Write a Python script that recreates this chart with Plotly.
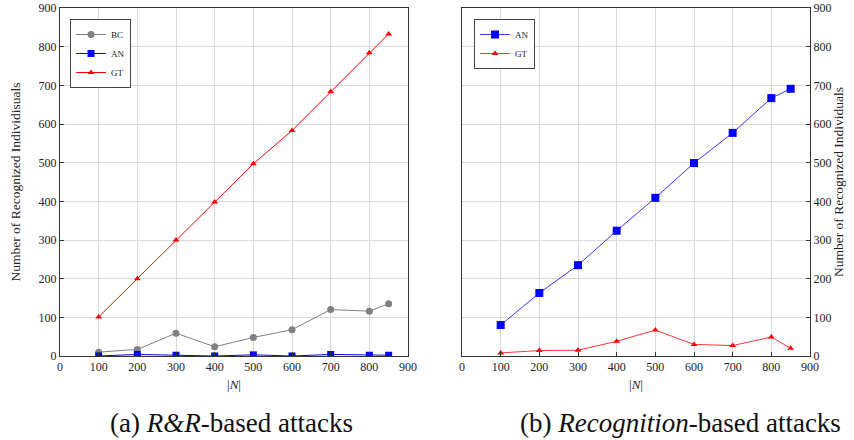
import plotly.graph_objects as go

N = [100, 200, 300, 400, 500, 600, 700, 800, 850]
rr_bc = [10, 17, 59, 24, 48, 68, 120, 116, 135]
rr_an = [0, 4, 2, 0, 3, 0, 4, 2, 2]
rr_gt = [101, 200, 300, 398, 497, 583, 684, 784, 833]
rec_an = [80, 163, 235, 324, 409, 499, 577, 667, 691]
rec_gt = [8, 14, 15, 38, 67, 30, 27, 49, 20]
ticks = [0, 100, 200, 300, 400, 500, 600, 700, 800, 900]

FONT = "Liberation Serif"
GRAY, BLUE, RED = "#808080", "#0000FF", "#FF0000"

fig = go.Figure()
fig.add_trace(go.Scatter(x=N, y=rr_bc, name="BC", mode="lines+markers", xaxis="x", yaxis="y",
                         line=dict(color=GRAY, width=1), marker=dict(symbol="circle", size=7, color=GRAY),
                         legend="legend"))
fig.add_trace(go.Scatter(x=N, y=rr_an, name="AN", mode="lines+markers", xaxis="x", yaxis="y",
                         line=dict(color=BLUE, width=1), marker=dict(symbol="square", size=7, color=BLUE),
                         legend="legend"))
fig.add_trace(go.Scatter(x=N, y=rr_gt, name="GT", mode="lines+markers", xaxis="x", yaxis="y",
                         line=dict(color=RED, width=1), marker=dict(symbol="triangle-up", size=6, color=RED),
                         legend="legend"))
fig.add_trace(go.Scatter(x=N, y=rec_an, name="AN", mode="lines+markers", xaxis="x2", yaxis="y2",
                         line=dict(color=BLUE, width=0.8), marker=dict(symbol="square", size=8, color=BLUE),
                         legend="legend2"))
fig.add_trace(go.Scatter(x=N, y=rec_gt, name="GT", mode="lines+markers", xaxis="x2", yaxis="y2",
                         line=dict(color=RED, width=0.8), marker=dict(symbol="triangle-up", size=6, color=RED),
                         legend="legend2"))

ydom = [(440 - 356) / 440, (440 - 8) / 440]
axcommon = dict(range=[0, 900], tickvals=ticks, showgrid=True, gridcolor="#d9d9d9", gridwidth=1,
                showline=True, linecolor="#333333", linewidth=1, mirror=True, zeroline=False,
                ticks="inside", ticklen=4, tickcolor="#333333", automargin=False,
                tickfont=dict(family=FONT, size=12, color="#222222"))

fig.update_layout(
    width=854, height=440,
    margin=dict(l=0, r=0, t=0, b=0, autoexpand=False),
    paper_bgcolor="white", plot_bgcolor="white",
    font=dict(family=FONT, color="#222222"),
    xaxis=dict(domain=[60 / 854, 408 / 854], anchor="y",
               title=dict(text="|<i>N</i>|", font=dict(family=FONT, size=13), standoff=6), **axcommon),
    yaxis=dict(domain=ydom, anchor="x",
               title=dict(text="Number of Recognized Individisuals", font=dict(family=FONT, size=13.5), standoff=14),
               **axcommon),
    xaxis2=dict(domain=[462 / 854, 810 / 854], anchor="y2",
                title=dict(text="|<i>N</i>|", font=dict(family=FONT, size=13), standoff=6), **axcommon),
    yaxis2=dict(domain=ydom, anchor="x2", side="right",
                title=dict(text="Number of Recognized Individuals", font=dict(family=FONT, size=13.5), standoff=3),
                **axcommon),
    legend=dict(x=70 / 854, y=(440 - 19) / 440, xanchor="left", yanchor="top",
                bgcolor="white", bordercolor="#444444", borderwidth=1,
                font=dict(family=FONT, size=9), tracegroupgap=0, itemwidth=30),
    legend2=dict(x=474 / 854, y=(440 - 19) / 440, xanchor="left", yanchor="top",
                 bgcolor="white", bordercolor="#444444", borderwidth=1,
                 font=dict(family=FONT, size=9), tracegroupgap=0, itemwidth=30),
    annotations=[
        dict(text="(a) <i>R&amp;R</i>-based attacks", x=231.5 / 854, y=(440 - 423) / 440, xref="paper", yref="paper",
             showarrow=False, font=dict(family=FONT, size=27, color="#111111"), xanchor="center", yanchor="middle"),
        dict(text="(b) <i>Recognition</i>-based attacks", x=680 / 854, y=(440 - 423) / 440, xref="paper", yref="paper",
             showarrow=False, font=dict(family=FONT, size=27, color="#111111"), xanchor="center", yanchor="middle"),
    ],
)

fig.write_html("out.html", config={"displayModeBar": False},
               post_script="document.body.style.margin='0';")
